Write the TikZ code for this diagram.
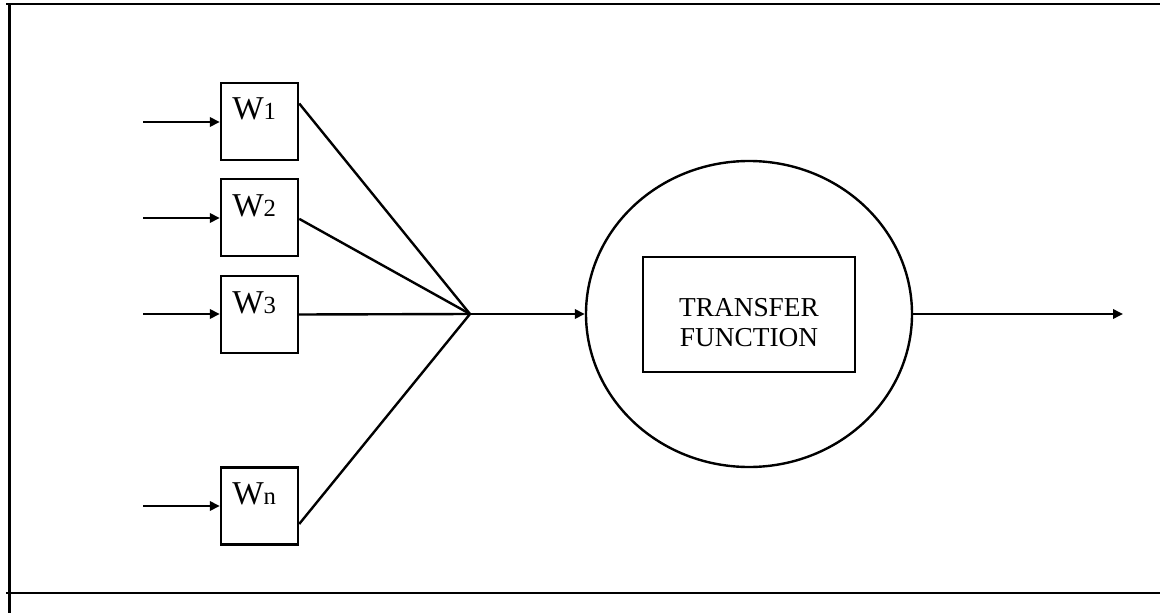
\documentclass[tikz,border=0pt]{standalone}
\usepackage{fontspec}
\setmainfont{Liberation Serif}
\usepackage{tikz}
\usetikzlibrary{arrows.meta,shapes.geometric}

\tikzset{
	peso/.style={draw, line width=1.8pt, inner sep=0pt, minimum width=57.75pt, minimum height=57.75pt},
	nomepeso/.style={anchor=base west, inner sep=0pt, font=\fontsize{25}{28}\selectfont},
	freccia/.style={-{Triangle[length=7.5pt,width=7pt]}, line width=1.8pt},
	linea/.style={line width=1.8pt},
	cornice/.style={line width=1.8pt}
}
\newcommand{\pedice}[1]{{\fontsize{18.5}{20}\selectfont #1}}

\begin{document}
\begin{tikzpicture}[x=0.75pt, y=-0.75pt]
				\useasboundingbox (0,0) rectangle (1160,613);
				\begin{scope}
					\draw[cornice] (6,4) -- (1160,4); % bordo sopra
					\draw[cornice] (9.5,4) -- (9.5,613); % bordo sinistro
					\draw[cornice] (6,593) -- (1160,593); % bordo sotto

					\node[peso] (w1) at (259.5,121.5) {};
					\node[peso] (w2) at (259.5,217.5) {};
					\node[peso] (w3) at (259.5,314.5) {};
					\node[peso] (wn) at (259.5,506) {};

					\node[nomepeso] (lw1) at (232,120) {W\pedice{1}};
					\node[nomepeso] (lw2) at (232,216) {W\pedice{2}};
					\node[nomepeso] (lw3) at (232,313) {W\pedice{3}};
					\node[nomepeso] (lwn) at (232,504) {W\pedice{n}};

					\coordinate (in1) at (143,122);
					\coordinate (in2) at (143,218);
					\coordinate (in3) at (143,314);
					\coordinate (inn) at (143,506);
					\draw[freccia] (in1) -- (w1.west|-in1); % ingresso 1
					\draw[freccia] (in2) -- (w2.west|-in2); % ingresso 2
					\draw[freccia] (in3) -- (w3.west|-in3); % ingresso 3
					\draw[freccia] (inn) -- (wn.west|-inn); % ingresso n

					\coordinate (somma) at (470,314);
					\draw[linea] ([yshift=13.5pt]w1.east) -- (somma); % da w1 alla somma
					\draw[linea] ([yshift=-1pt]w2.east) -- (somma); % da w2 alla somma
					\draw[linea] (w3.east) -- (somma); % da w3 alla somma
					\draw[linea] ([yshift=-13.5pt]wn.east) -- (somma); % da wn alla somma

					\node[draw, ellipse, line width=1.8pt, inner sep=0pt, minimum width=244.5pt, minimum height=229.5pt] (neurone) at (749,314) {};
					\node[draw, line width=1.8pt, inner sep=0pt, minimum width=159pt, minimum height=86.25pt] (tf) at (749,314.5) {};
					\node[align=center, inner sep=0pt, font=\fontsize{20.5}{22.5}\selectfont] (tftesto) at (749,322.5) {TRANSFER\\FUNCTION};

					\draw[freccia] (somma) -- (neurone.west); % dalla somma al neurone
					\coordinate (uscita) at (1123,314);
					\draw[freccia] (neurone.east) -- (uscita); % uscita
				\end{scope}
			\end{tikzpicture}
\end{document}
